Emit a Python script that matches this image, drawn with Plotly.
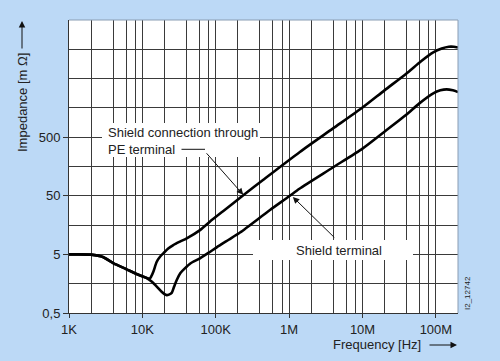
import numpy as np
import plotly.graph_objects as go

# ---- data ----
freq_pe = [1e3, 2e3, 2.9e3, 4e3, 6e3, 9e3, 11.5e3, 12.6e3, 13.2e3, 14.1e3, 15.7e3, 17.5e3,
           19.3e3, 22.5e3, 26.4e3, 32e3, 40.2e3, 61e3, 83e3, 127e3, 237e3, 445e3, 1.4e6,
           3.93e6, 10.1e6, 19.9e6, 39e6, 62.8e6, 92e6, 120e6, 150e6, 175e6, 200e6]
imp_pe = [5.0, 4.95, 4.5, 3.55, 2.81, 2.22, 1.98, 1.93, 2.1, 2.53, 3.75, 4.6,
          5.22, 6.3, 7.23, 8.2, 9.41, 13.0, 18.1, 27.5, 51, 94, 280,
          700, 1620, 3150, 6000, 9900, 14000, 16300, 17500, 17500, 17000]

freq_sh = [1e3, 2e3, 2.9e3, 4e3, 6e3, 9e3, 11.5e3, 13.5e3, 15.7e3, 18.3e3, 20e3, 21.4e3,
           23e3, 25.1e3, 27e3, 29.4e3, 33e3, 38.1e3, 45e3, 61e3, 83e3, 103e3, 150e3,
           214e3, 548e3, 1e6, 1.38e6, 3.93e6, 10.1e6, 19.9e6, 39e6, 59.5e6,
           92e6, 115e6, 140e6, 170e6, 200e6]
imp_sh = [5.0, 4.95, 4.5, 3.55, 2.81, 2.22, 1.97, 1.7, 1.41, 1.15, 1.05, 1.01,
          1.03, 1.1, 1.4, 1.83, 2.4, 2.9, 3.5, 4.29, 5.5, 6.6, 8.9,
          11.8, 28.6, 49, 66, 152, 323, 621, 1195, 1890,
          2800, 3150, 3275, 3150, 2950]

x_tickvals = [1e3, 1e4, 1e5, 1e6, 1e7, 1e8]
x_ticktext = ["1K", "10K", "100K", "1M", "10M", "100M"]
x_minor = [m * 10**k for k in range(3, 9) for m in (2, 4, 6, 8) if m * 10**k < 2e8]

y_tickvals = [0.5, 5, 50, 500]
y_ticktext = ["0,5", "5", "50", "500"]
y_minor = [1.581, 15.81, 158.1, 1581, 5000, 15811]

FONT = "Arial, Liberation Sans, sans-serif"
TXT = "#222222"
GRID = "#3a3a3a"

L, R, T, B = 69, 42, 20, 48
W, H = 500, 361
PW, PH = W - L - R, H - T - B


def px(x):
    return (x - L) / PW


def py(y):
    return (H - B - y) / PH


fig = go.Figure()
for f, z in ((freq_pe, imp_pe), (freq_sh, imp_sh)):
    fig.add_trace(go.Scatter(x=f, y=z, mode="lines",
                             line=dict(color="#000000", width=2.6, shape="spline", smoothing=0.7),
                             hoverinfo="skip", showlegend=False))

fig.update_layout(
    width=W, height=H,
    margin=dict(l=L, r=R, t=T, b=B, autoexpand=False),
    paper_bgcolor="#bcd9f6",
    plot_bgcolor="#ffffff",
    font=dict(family=FONT, size=13, color=TXT),
    showlegend=False,
)
fig.update_xaxes(type="log", range=[3, np.log10(2e8)], automargin=False,
                 tickvals=x_tickvals, ticktext=x_ticktext,
                 showgrid=True, gridcolor=GRID, gridwidth=1,
                 ticks="outside", ticklen=4, tickcolor="#333333",
                 showline=True, linecolor="#333333", linewidth=1,
                 minor=dict(tickvals=x_minor, showgrid=True, gridcolor=GRID, gridwidth=1, ticks=""),
                 tickfont=dict(size=13, color=TXT), zeroline=False)
fig.update_yaxes(type="log", range=[np.log10(0.5), np.log10(50000)], automargin=False,
                 tickvals=y_tickvals, ticktext=y_ticktext,
                 showgrid=True, gridcolor=GRID, gridwidth=1,
                 ticks="outside", ticklen=5, tickcolor="#333333",
                 showline=True, linecolor="#333333", linewidth=1,
                 minor=dict(tickvals=y_minor, showgrid=True, gridcolor=GRID, gridwidth=1, ticks=""),
                 tickfont=dict(size=13, color=TXT), zeroline=False)

shapes = [
    # top / right frame of the plot area
    dict(type="line", xref="paper", yref="paper", x0=0, x1=1, y0=1, y1=1,
         line=dict(color="#8a9db3", width=1)),
    dict(type="line", xref="paper", yref="paper", x0=1, x1=1, y0=0, y1=1,
         line=dict(color="#8a9db3", width=1)),
    # white label backgrounds
    dict(type="rect", xref="paper", yref="paper", x0=px(102), x1=px(260), y0=py(157), y1=py(123),
         fillcolor="#ffffff", line=dict(width=0), layer="above"),
    dict(type="rect", xref="paper", yref="paper", x0=px(253), x1=px(413), y0=py(260), y1=py(240),
         fillcolor="#ffffff", line=dict(width=0), layer="above"),
]
fig.update_layout(shapes=shapes)

ann = []
# label texts
ann.append(dict(xref="paper", yref="paper", x=px(106), y=py(140.5), xanchor="left", yanchor="middle",
                text="Shield connection through<br>PE terminal", align="left", showarrow=False,
                font=dict(size=13, color=TXT)))
ann.append(dict(xref="paper", yref="paper", x=px(339), y=py(250), xanchor="center", yanchor="middle",
                text="Shield terminal", showarrow=False, font=dict(size=13, color=TXT)))
# leader lines
ann.append(dict(xref="paper", yref="paper", x=px(205), y=py(149.3), text="", showarrow=True,
                arrowhead=0, ax=-25, ay=0, arrowwidth=1, arrowcolor="#111111", standoff=0))
ann.append(dict(xref="x", yref="y", x=np.log10(2.37e5), y=np.log10(52), text="", showarrow=True,
                arrowhead=2, arrowsize=1.3, arrowwidth=1, arrowcolor="#111111",
                ax=-38, ay=-43, standoff=0))
ann.append(dict(xref="x", yref="y", x=6.05, y=1.68, text="", showarrow=True,
                arrowhead=2, arrowsize=1.3, arrowwidth=1, arrowcolor="#111111",
                ax=43, ay=42, standoff=0))
# axis titles
ann.append(dict(xref="paper", yref="paper", x=px(22), y=py(103), xanchor="center", yanchor="middle",
                text="Impedance [m Ω]", textangle=-90, showarrow=False,
                font=dict(size=13, color=TXT)))
ann.append(dict(xref="paper", yref="paper", x=px(22), y=py(21), text="", showarrow=True,
                arrowhead=2, arrowsize=1.3, arrowwidth=1, arrowcolor="#111111",
                ax=0, ay=29, standoff=0))
ann.append(dict(xref="paper", yref="paper", x=px(377), y=py(344), xanchor="center", yanchor="middle",
                text="Frequency [Hz]", showarrow=False, font=dict(size=13, color=TXT)))
ann.append(dict(xref="paper", yref="paper", x=px(457), y=py(345), text="", showarrow=True,
                arrowhead=2, arrowsize=1.3, arrowwidth=1, arrowcolor="#111111",
                ax=-29, ay=0, standoff=0))
ann.append(dict(xref="paper", yref="paper", x=px(467), y=py(293), xanchor="center", yanchor="middle",
                text="I2_12742", textangle=-90, showarrow=False, font=dict(size=8, color=TXT)))
fig.update_layout(annotations=ann)

fig.write_html("out.html", config={"displayModeBar": False},
               post_script="document.body.style.margin='0';")
